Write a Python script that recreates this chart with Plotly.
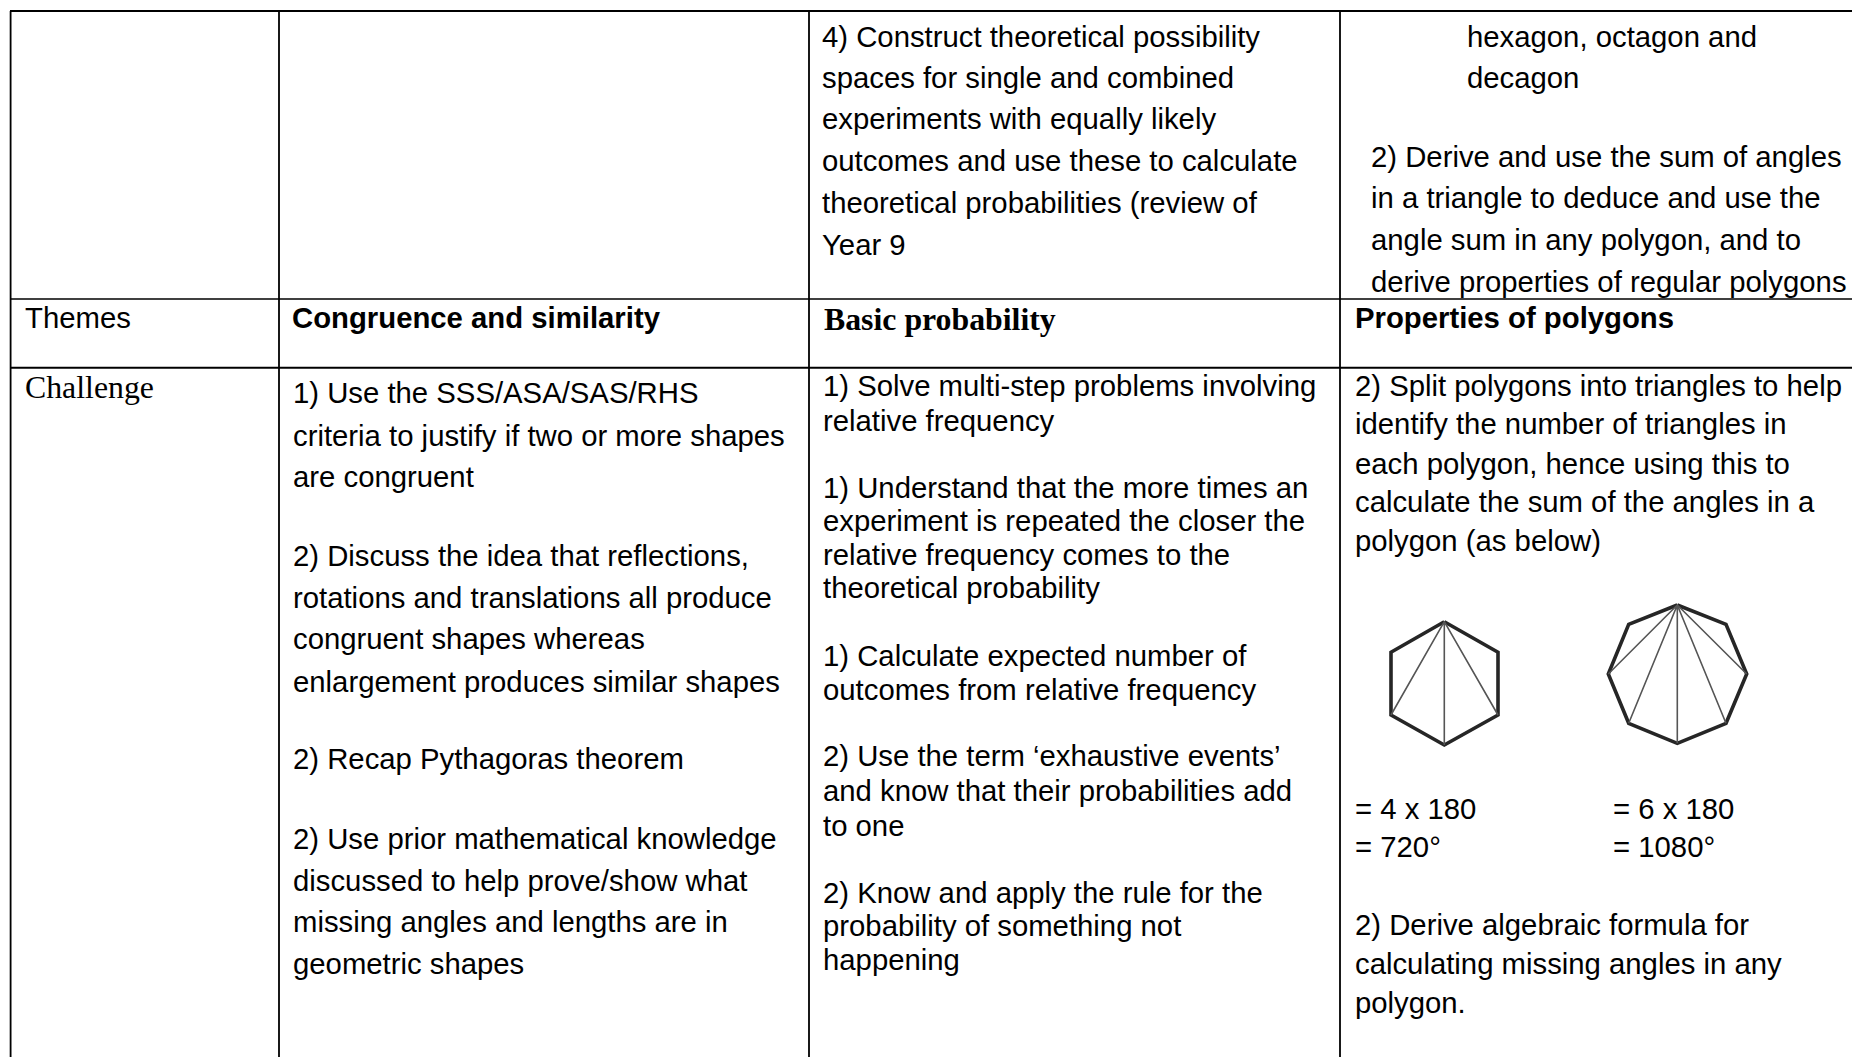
import plotly.graph_objects as go

SANS = "Liberation Sans"
SERIF = "Liberation Serif"
S = 1852 / 1568
BODY = 29.3
SER = 31.8
Y_NUDGE = -0.4

# ---------- content ----------
top_col3 = ["4) Construct theoretical possibility", "spaces for single and combined",
            "experiments with equally likely", "outcomes and use these to calculate",
            "theoretical probabilities (review of", "Year 9"]
top_col4a = ["hexagon, octagon and", "decagon"]
top_col4b = ["2) Derive and use the sum of angles", "in a triangle to deduce and use the",
             "angle sum in any polygon, and to", "derive properties of regular polygons"]
row_label = "Themes"
theme_col2 = "Congruence and similarity"
theme_col3 = "Basic probability"
theme_col4 = "Properties of polygons"
challenge = "Challenge"
col2 = ["1) Use the SSS/ASA/SAS/RHS", "criteria to justify if two or more shapes", "are congruent",
        "2) Discuss the idea that reflections,", "rotations and translations all produce",
        "congruent shapes whereas", "enlargement produces similar shapes",
        "2) Recap Pythagoras theorem",
        "2) Use prior mathematical knowledge", "discussed to help prove/show what",
        "missing angles and lengths are in", "geometric shapes"]
col3 = ["1) Solve multi-step problems involving", "relative frequency",
        "1) Understand that the more times an", "experiment is repeated the closer the",
        "relative frequency comes to the", "theoretical probability",
        "1) Calculate expected number of", "outcomes from relative frequency",
        "2) Use the term ‘exhaustive events’", "and know that their probabilities add", "to one",
        "2) Know and apply the rule for the", "probability of something not", "happening"]
col4a = ["2) Split polygons into triangles to help", "identify the number of triangles in",
         "each polygon, hence using this to", "calculate the sum of the angles in a",
         "polygon (as below)"]
calc_left = ["= 4 x 180", "= 720°"]
calc_right = ["= 6 x 180", "= 1080°"]
col4b = ["2) Derive algebraic formula for", "calculating missing angles in any", "polygon."]

# polygon outlines and diagonals
hex_x = [1444.3, 1498, 1498, 1444.3, 1391, 1391, 1444.3]
hex_y = [621.7, 652.3, 715, 745, 715, 652.3, 621.7]
hex_diag_x = [1391, 1444.3, 1444.3, 1444.3, 1498]
hex_diag_y = [715, 621.7, 745, 621.7, 715]
oct_x = [1677.3, 1726, 1746.7, 1726, 1677.3, 1628.7, 1608.3, 1628.7, 1677.3]
oct_y = [605, 624.3, 674, 723.3, 743.3, 723.3, 674, 624.3, 605]
oct_diag_x = [1608.3, 1677.3, 1628.7, 1677.3, 1677.3, 1677.3, 1726, 1677.3, 1746.7]
oct_diag_y = [674, 605, 723.3, 605, 743.3, 605, 723.3, 605, 674]

# ---------- layout of the text (in 1568-wide reference units) ----------
blocks = [
    (top_col3, 695.5, [31, 66, 101, 136, 172, 207], SANS, BODY, False),
    (top_col4a, 1241.5, [31, 66], SANS, BODY, False),
    (top_col4b, 1159.5, [133, 168, 203, 239], SANS, BODY, False),
    ([row_label], 20.5, [269], SANS, BODY, False),
    ([theme_col2], 246.5, [269], SANS, BODY, True),
    ([theme_col3], 696.5, [270.5], SERIF, SER, True),
    ([theme_col4], 1146.5, [269], SANS, BODY, True),
    ([challenge], 20.5, [328.5], SERIF, SER, False),
    (col2, 247, [333, 369, 404, 471, 506, 541, 577, 643, 710, 746, 781, 816], SANS, BODY, False),
    (col3, 696, [327, 356, 413, 441, 470, 498, 555, 584, 640, 670, 699, 756, 784, 813], SANS, BODY, False),
    (col4a, 1146, [327, 359, 393, 425, 458], SANS, BODY, False),
    (calc_left, 1146, [685, 717], SANS, BODY, False),
    (calc_right, 1365, [685, 717], SANS, BODY, False),
    (col4b, 1146, [783, 816, 849], SANS, BODY, False),
]

fig = go.Figure()
for xs, ys, w, c in [(hex_x, hex_y, 3.6, "#262626"), (hex_diag_x, hex_diag_y, 1.6, "#555555"),
                     (oct_x, oct_y, 3.6, "#262626"), (oct_diag_x, oct_diag_y, 1.6, "#555555")]:
    fig.add_trace(go.Scatter(x=xs, y=ys, mode="lines", line=dict(color=c, width=w),
                             hoverinfo="skip", showlegend=False))

annotations = []
for lines, x, ys, fam, size, bold in blocks:
    for t, y in zip(lines, ys):
        annotations.append(dict(x=x * S, y=(y + Y_NUDGE) * S, xref="x", yref="y",
                                text=f"<b>{t}</b>" if bold else t,
                                showarrow=False, xanchor="left", yanchor="middle", borderpad=0,
                                font=dict(family=fam, size=size, color="#000000")))

shapes = []
for y, w in [(11, 2), (299, 1.6), (367.7, 2)]:
    shapes.append(dict(type="line", x0=10, x1=1852, y0=y, y1=y, line=dict(color="#000", width=w)))
for x in [10.6, 279, 809, 1340]:
    shapes.append(dict(type="line", x0=x, x1=x, y0=11, y1=1057, line=dict(color="#000", width=1.8)))

fig.update_layout(width=1852, height=1057, margin=dict(l=0, r=0, t=0, b=0, pad=0),
                  paper_bgcolor="white", plot_bgcolor="white", showlegend=False,
                  xaxis=dict(range=[0, 1852], visible=False, fixedrange=True),
                  yaxis=dict(range=[1057, 0], visible=False, fixedrange=True),
                  annotations=annotations, shapes=shapes)
fig.write_html("out.html", config=dict(displayModeBar=False),
               post_script="document.body.style.margin='0';document.body.style.overflow='hidden';")
